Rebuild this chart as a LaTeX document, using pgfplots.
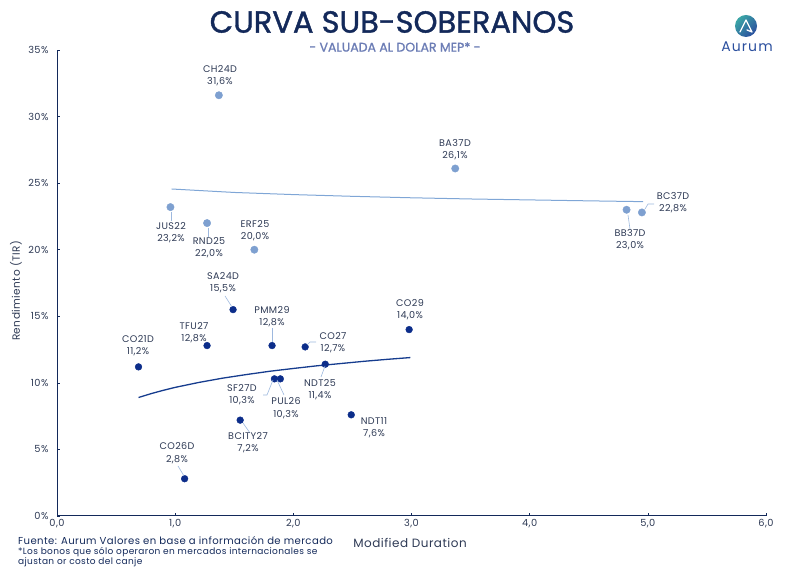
\documentclass[border=0pt]{standalone}
\usepackage{fontspec}
\setmainfont{Poppins}
\newfontfamily\titlefont[FakeBold=1.2]{Poppins}
\newfontfamily\spacedfont[LetterSpace=4]{Poppins}
\newfontfamily\logofont[LetterSpace=8]{Poppins}
\usepackage{pgfplots}
\pgfplotsset{compat=1.18}
\definecolor{navy}{HTML}{13295A}
\definecolor{darkpt}{HTML}{0C2D8A}
\definecolor{lightpt}{HTML}{7EA0D0}
\definecolor{lbl}{HTML}{2E3A55}
\definecolor{sub}{HTML}{6C7DB5}
\definecolor{lead}{HTML}{9DB8DE}
\definecolor{lighttrend}{HTML}{7FA6D6}
\definecolor{darktrend}{HTML}{163C8E}
\definecolor{logoA}{HTML}{3BA6A6}
\definecolor{logoB}{HTML}{2B4F9E}
\newcommand{\lblfont}{\spacedfont\fontsize{9.6}{12.3}\selectfont\color{lbl}}
\begin{document}
\begin{tikzpicture}[x=1pt,y=1pt]
\path[use as bounding box] (0,0) rectangle (792,577);
\begin{axis}[
  at={(57pt,61pt)}, anchor=south west,
  scale only axis, width=709pt, height=466pt,
  xmin=0, xmax=6, ymin=0, ymax=35,
  axis x line*=bottom, axis y line*=left,
  axis line style={navy, line width=1pt, -},
  xtick={0,1,2,3,4,5,6},
  xticklabels={{0,0},{1,0},{2,0},{3,0},{4,0},{5,0},{6,0}},
  ytick={0,5,10,15,20,25,30,35},
  yticklabels={0\%,5\%,10\%,15\%,20\%,25\%,30\%,35\%},
  tick style={navy, line width=0.6pt},
  tick align=inside, major tick length=3pt,
  tick label style={font=\spacedfont\fontsize{9.8}{11}\selectfont, text=lbl},
  yticklabel style={xshift=-5pt},
  clip=false,
]
% trend lines
\addplot[lighttrend, line width=1pt] coordinates {(0.97,24.56) (1.5,24.30) (2.0,24.14) (2.5,24.01) (3.0,23.90) (3.5,23.81) (4.0,23.74) (4.5,23.67) (4.96,23.61)};
\addplot[darktrend, line width=1.3pt] coordinates {(0.69,8.90) (0.8,9.20) (0.9,9.44) (1.0,9.66) (1.2,10.03) (1.4,10.35) (1.6,10.62) (1.8,10.87) (2.0,11.08) (2.2,11.28) (2.4,11.45) (2.6,11.62) (2.8,11.77) (2.99,11.90)};
% light points
\addplot[only marks, color=lightpt, mark=*, mark size=3.7pt, mark options={fill=lightpt, draw=none}] coordinates {
 (1.37,31.6) (3.37,26.1) (0.96,23.2) (1.27,22.0) (1.67,20.0) (4.82,23.0) (4.95,22.8)};
% dark points
\addplot[only marks, color=darkpt, mark=*, mark size=3.4pt, mark options={fill=darkpt, draw=none}] coordinates {
 (1.49,15.5) (2.98,14.0) (1.27,12.8) (1.82,12.8) (2.10,12.7) (0.69,11.2) (2.27,11.4) (1.84,10.3) (1.89,10.3) (2.49,7.6) (1.55,7.2) (1.08,2.8)};
\end{axis}
% leader lines
\begin{scope}[lead, line width=0.6pt]
\draw (171,365) -- (171,356);
\draw (208,349) -- (208,340);
\draw (628,362) -- (630,348);
\draw (645,368) -- (648,373) -- (654,373);
\draw (225,281) -- (232,270);
\draw (272,249) -- (272,235);
\draw (307,232) -- (310,235) -- (316,235);
\draw (325,211) -- (321,200);
\draw (263,182) -- (267,182) -- (273,197);
\draw (277,197) -- (284,182);
\draw (243,154) -- (250,144);
\draw (178,111) -- (184,101);
\end{scope}
% labels
\begin{scope}[every node/.style={align=center, font=\lblfont, inner sep=0pt}]
\node at (220,501) {CH24D\\31,6\%};
\node at (455,427) {BA37D\\26,1\%};
\node at (673,374) {BC37D\\22,8\%};
\node at (630,337) {BB37D\\23,0\%};
\node at (171,344) {JUS22\\23,2\%};
\node at (209,329) {RND25\\22,0\%};
\node at (255,346) {ERF25\\20,0\%};
\node at (223,294) {SA24D\\15,5\%};
\node at (410,267) {CO29\\14,0\%};
\node at (194,244) {TFU27\\12,8\%};
\node at (272,260) {PMM29\\12,8\%};
\node at (333,234) {CO27\\12,7\%};
\node at (138,231) {CO21D\\11,2\%};
\node at (320,187) {NDT25\\11,4\%};
\node at (242,182) {SF27D\\10,3\%};
\node at (286,169) {PUL26\\10,3\%};
\node at (374,149) {NDT11\\7,6\%};
\node at (248,134) {BCITY27\\7,2\%};
\node at (177,124) {CO26D\\2,8\%};
\end{scope}
% axis titles
\node[rotate=90, font=\spacedfont\fontsize{10.5}{12}\selectfont, text=lbl] at (16,286) {Rendimiento (TIR)};
\node[font=\spacedfont\fontsize{12}{14}\selectfont, text=lbl] at (410,34) {Modified Duration};
% footnotes
\node[anchor=west, font=\spacedfont\fontsize{10.1}{12}\selectfont, text=navy, inner sep=0pt] at (18,36) {Fuente: Aurum Valores en base a información de mercado};
\node[anchor=west, font=\spacedfont\fontsize{9}{10}\selectfont, text=navy, inner sep=0pt] at (18,25) {*Los bonos que sólo operaron en mercados internacionales se};
\node[anchor=west, font=\spacedfont\fontsize{9}{10}\selectfont, text=navy, inner sep=0pt] at (18,15) {ajustan or costo del canje};
% title
\node[font=\titlefont\fontsize{30.5}{33}\selectfont, text=navy] at (392,555) {CURVA SUB-SOBERANOS};
\node[font=\titlefont\fontsize{12.5}{14}\selectfont, text=sub] at (395,530) {- VALUADA AL DOLAR MEP* -};
% logo
\shade[left color=logoA, right color=logoB, shading angle=45] (746,551) circle (11);
\draw[white, line width=1.3pt, line join=round, line cap=round] (740,545) -- (746,557) -- (752,545) -- (747,547);
\node[font=\logofont\fontsize{14}{15}\selectfont, text=logoB] at (747,530) {Aurum};
\end{tikzpicture}
\end{document}
